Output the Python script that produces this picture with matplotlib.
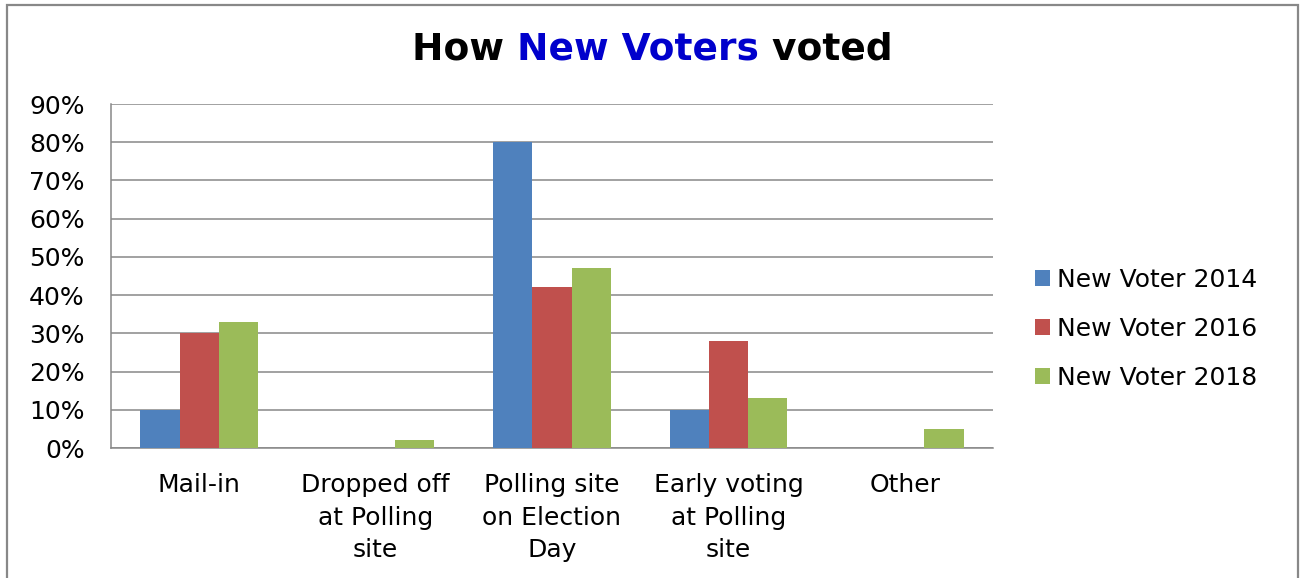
import matplotlib
matplotlib.use("Agg")
import matplotlib.pyplot as plt
from matplotlib.patches import Rectangle
from matplotlib.ticker import PercentFormatter, MultipleLocator
import numpy as np

# categories and values (fractions)
categories = ["Mail-in", "Dropped off\nat Polling\nsite", "Polling site\non Election\nDay",
              "Early voting\nat Polling\nsite", "Other"]
series_names = ["New Voter 2014", "New Voter 2016", "New Voter 2018"]
voter_2014 = [0.10, 0.0, 0.80, 0.10, 0.0]
voter_2016 = [0.30, 0.0, 0.42, 0.28, 0.0]
voter_2018 = [0.33, 0.02, 0.47, 0.13, 0.05]
colors = ["#4F81BD", "#C0504D", "#9BBB59"]

plt.rcParams["font.family"] = ["DejaVu Sans"]
grey = "#888888"
fs = 18

fig = plt.figure(figsize=(13, 5.78), dpi=100)
ax = fig.add_axes([111 / 1300, 1 - 448 / 578, (993 - 111) / 1300, (448 - 104) / 578])

x = np.arange(len(categories))
w = 0.222
for i, (vals, name) in enumerate(zip([voter_2014, voter_2016, voter_2018], series_names)):
    ax.bar(x + (i - 1) * w, vals, width=w, color=colors[i], label=name, zorder=3)

ax.set_xlim(-0.5, len(categories) - 0.5)
ax.set_ylim(0, 0.9)
ax.yaxis.set_major_locator(MultipleLocator(0.1))
ax.yaxis.set_major_formatter(PercentFormatter(1.0, decimals=0))
ax.yaxis.grid(True, color=grey, linewidth=1.1, zorder=0)
ax.set_xticks(x)
ax.set_xticklabels(categories, linespacing=1.45)
ax.tick_params(axis="y", length=0, pad=19, labelsize=fs)
ax.tick_params(axis="x", length=0, pad=18, labelsize=fs)
for s in ["top", "right"]:
    ax.spines[s].set_visible(False)
for s in ["left", "bottom"]:
    ax.spines[s].set_color(grey)
    ax.spines[s].set_linewidth(1.1)

fig.legend(loc="center left", bbox_to_anchor=(1035 / 1300, 1 - 329 / 578), frameon=False,
           fontsize=fs, borderpad=0, borderaxespad=0, handlelength=0.6, handleheight=0.6,
           handletextpad=0.28, labelspacing=1.0)

# outer chart border
fig.patches.append(Rectangle((7 / 1300, -0.05), (1298 - 7) / 1300, 1.05 - 5 / 578,
                             transform=fig.transFigure, fill=False, edgecolor=grey,
                             linewidth=1.6))

# title with coloured middle part
parts = [("How ", "black"), ("New Voters", "#0000CC"), (" voted", "black")]
texts = [fig.text(0, 1 - 49 / 578, p, color=c, fontsize=27, fontweight="bold", va="center")
         for p, c in parts]
fig.canvas.draw()
r = fig.canvas.get_renderer()
widths = [t.get_window_extent(r).width for t in texts]
left = 652 - sum(widths) / 2
for t, wd in zip(texts, widths):
    t.set_x(left / 1300)
    left += wd

fig.savefig("out.png", dpi=100)
